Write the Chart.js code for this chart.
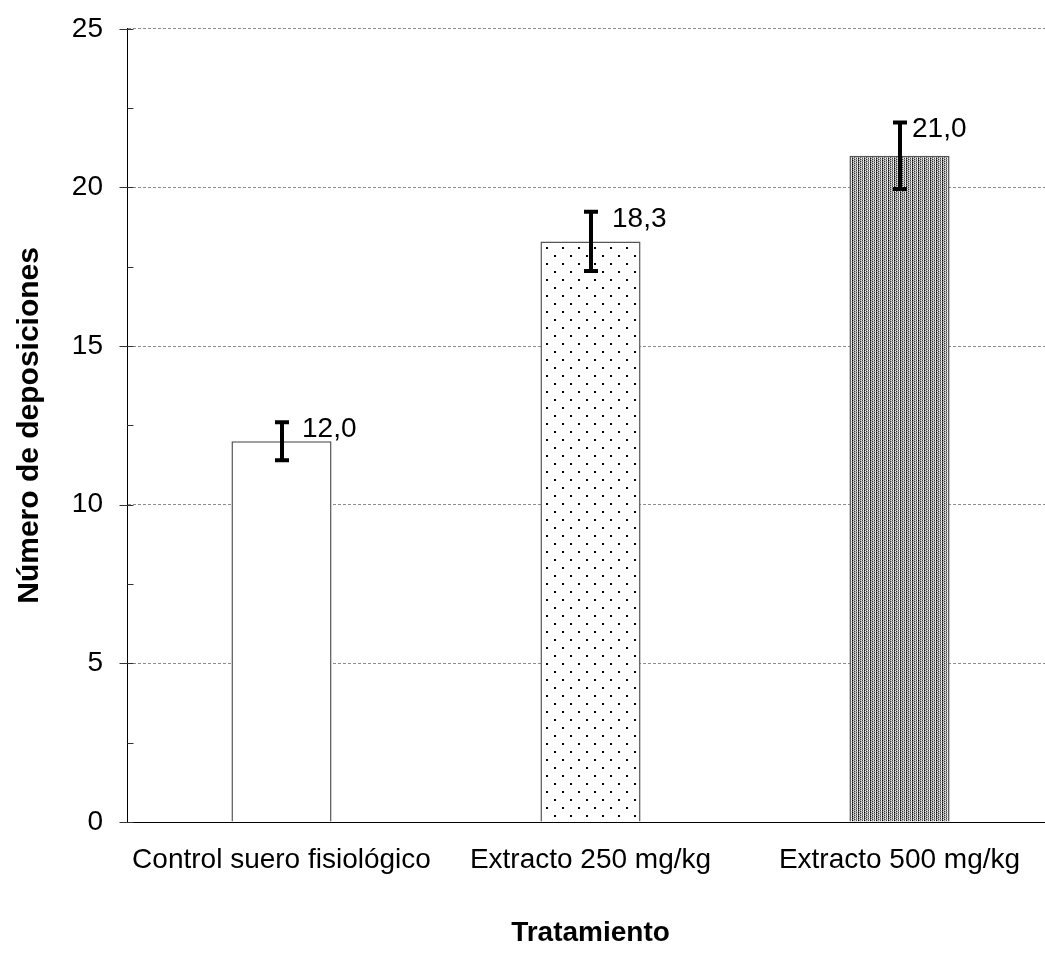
<!DOCTYPE html>
<html>
<head>
<meta charset="utf-8">
<script src="https://cdn.jsdelivr.net/npm/chart.js@4.4.1/dist/chart.umd.min.js"></script>
<style>
html,body{margin:0;padding:0;background:#fff;overflow:hidden;}
#wrap{width:1060px;height:965px;overflow:hidden;position:relative;}
#c{position:absolute;left:0;top:-12px;}
</style>
</head>
<body>
<div id="wrap"><canvas id="c" width="1060" height="977"></canvas></div>
<script>
const categories = ['Control suero fisiológico', 'Extracto 250 mg/kg', 'Extracto 500 mg/kg'];
const values = [12.0, 18.3, 21.0];
const errors = [0.6, 0.93, 1.05];
const valueLabels = ['12,0', '18,3', '21,0'];
const yTicks = [0, 5, 10, 15, 20, 25];
const yMinorTicks = [2.5, 7.5, 12.5, 17.5, 22.5];
const xTitle = 'Tratamiento';
const yTitle = 'Número de deposiciones';

const FONT = "'Liberation Sans', Arial, sans-serif";

function makePattern(kind) {
  if (kind === 'none') return '#fff';
  const t = document.createElement('canvas');
  const g = t.getContext('2d');
  const px = (x, y, c) => { g.fillStyle = c; g.fillRect(x, y, 1, 1); };
  if (kind === 'sparse') {
    t.width = 16; t.height = 16;
    g.fillStyle = '#fff'; g.fillRect(0, 0, 16, 16);
    g.fillStyle = '#000';
    g.fillRect(2, 3, 2, 2);
    g.fillRect(10, 11, 2, 2);
  } else {
    t.width = 6; t.height = 4;
    g.fillStyle = '#fff'; g.fillRect(0, 0, 6, 4);
    px(0,0,'#000'); px(0,1,'#555'); px(0,2,'#111'); px(0,3,'#555');
    px(1,0,'#999'); px(1,1,'#ddd'); px(1,2,'#999'); px(1,3,'#eee');
    px(2,1,'#333'); px(2,3,'#333'); px(2,0,'#aaa'); px(2,2,'#aaa');
    px(3,0,'#ddd'); px(3,1,'#aaa'); px(3,2,'#eee'); px(3,3,'#aaa');
    px(4,0,'#444'); px(4,2,'#444'); px(4,1,'#999'); px(4,3,'#999');
    px(5,1,'#ccc'); px(5,3,'#ccc');
  }
  return g.createPattern(t, 'repeat');
}

const fills = [makePattern('none'), makePattern('sparse'), makePattern('dense')];

const extrasPlugin = {
  id: 'extras',
  afterDatasetsDraw(chart, args, opts) {
    const ctx = chart.ctx;
    const x = chart.scales.x, y = chart.scales.y;
    const meta = chart.getDatasetMeta(0);
    ctx.save();
    ctx.strokeStyle = '#333';
    ctx.lineWidth = 1;
    const ax = Math.round(x.left) + 0.5;
    yTicks.forEach(v => {
      const py = Math.round(y.getPixelForValue(v)) + 0.5;
      ctx.beginPath(); ctx.moveTo(ax - 8, py); ctx.lineTo(ax + 6, py); ctx.stroke();
    });
    yMinorTicks.forEach(v => {
      const py = Math.round(y.getPixelForValue(v)) + 0.5;
      ctx.beginPath(); ctx.moveTo(ax, py); ctx.lineTo(ax + 6, py); ctx.stroke();
    });
    ctx.restore();
    ctx.save();
    meta.data.forEach((bar, i) => {
      const cx = Math.round(bar.x);
      const top = y.getPixelForValue(values[i] + errors[i]);
      const bot = y.getPixelForValue(values[i] - errors[i]);
      ctx.strokeStyle = '#000';
      ctx.lineWidth = 4;
      ctx.beginPath();
      ctx.moveTo(cx, top); ctx.lineTo(cx, bot);
      ctx.moveTo(cx - 7, top); ctx.lineTo(cx + 7, top);
      ctx.moveTo(cx - 7, bot); ctx.lineTo(cx + 7, bot);
      ctx.stroke();
      ctx.fillStyle = '#000';
      ctx.font = '28px ' + FONT;
      ctx.textAlign = 'left';
      ctx.textBaseline = 'middle';
      ctx.fillText(valueLabels[i], cx + opts.labelOffsets[i], top + 7);
    });
    ctx.restore();
  }
};

new Chart(document.getElementById('c'), {
  type: 'bar',
  data: {
    labels: categories,
    datasets: [{
      data: values,
      backgroundColor: fills,
      borderColor: '#555',
      borderWidth: 1.5,
      borderSkipped: 'bottom',
      barPercentage: 0.324,
      categoryPercentage: 1.0
    }]
  },
  options: {
    responsive: false,
    animation: false,
    devicePixelRatio: 1,
    layout: { padding: { top: 15, right: 6, left: 0, bottom: 0 } },
    plugins: {
      legend: { display: false },
      tooltip: { enabled: false },
      extras: { labelOffsets: [20, 21, 12] }
    },
    scales: {
      x: {
        grid: { display: false },
        border: { display: true, color: '#000', width: 1 },
        ticks: { color: '#000', font: { family: FONT, size: 28 }, padding: 13, maxRotation: 0, autoSkip: false },
        title: { display: true, text: xTitle, color: '#000', font: { family: FONT, size: 28, weight: 'bold' }, padding: { top: 0, bottom: 15 } },
        afterFit(s) { s.height = 143; }
      },
      y: {
        min: 0, max: 25,
        afterBuildTicks(s) { s.ticks = yTicks.map(v => ({ value: v })); },
        grid: {
          drawTicks: false,
          color: c => (c.tick && c.tick.value !== 0) ? '#8c8c8c' : 'rgba(0,0,0,0)',
          lineWidth: 1
        },
        border: { display: true, color: '#000', width: 1, dash: [3, 2] },
        ticks: { color: '#000', font: { family: FONT, size: 28 }, padding: 24 },
        title: { display: true, text: yTitle, color: '#000', font: { family: FONT, size: 30, weight: 'bold' }, padding: { top: 12, bottom: 0 } },
        afterFit(s) { s.width = 127; }
      }
    }
  },
  plugins: [extrasPlugin]
});
</script>
</body>
</html>
